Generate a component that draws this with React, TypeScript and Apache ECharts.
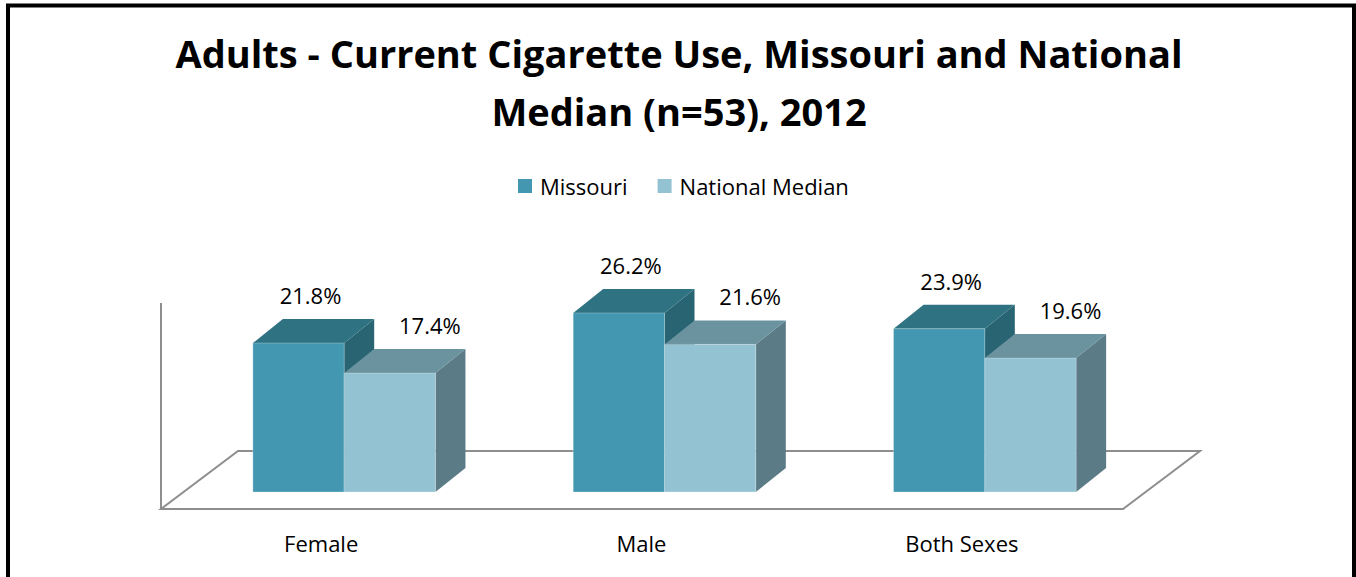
import React, { useEffect, useRef } from "react";
import * as echarts from "echarts";

const categories = ["Female", "Male", "Both Sexes"];
const missouri = [21.8, 26.2, 23.9];
const nationalMedian = [17.4, 21.6, 19.6];
const seriesNames = ["Missouri", "National Median"];
const titleText = "Adults - Current Cigarette Use, Missouri and National\nMedian (n=53), 2012";

const FONT = "'Open Sans', 'Noto Sans', 'Liberation Sans', sans-serif";

const palettes = [
  { front: "#4397B0", top: "#2F7383", side: "#286472" },
  { front: "#93C3D3", top: "#6A939F", side: "#5B7C86" },
];
const labelShift = [12, 40];
const DX = 30;
const DY = -24;

function makeBarRenderer(seriesIdx: number) {
  return (params: any, api: any) => {
    const cat = api.value(0);
    const val = api.value(1);
    const top = api.coord([cat, val]);
    const base = api.coord([cat, 0]);
    const band = api.size([1, 0])[0];
    const w = band * 0.285;
    const x0 = seriesIdx === 0 ? top[0] - w : top[0];
    const x1 = x0 + w;
    const yT = top[1];
    const yB = base[1];
    const p = palettes[seriesIdx];
    return {
      type: "group",
      children: [
        {
          type: "polygon",
          shape: { points: [[x1, yT], [x1 + DX, yT + DY], [x1 + DX, yB + DY], [x1, yB]] },
          style: { fill: p.side },
        },
        {
          type: "polygon",
          shape: { points: [[x0, yT], [x0 + DX, yT + DY], [x1 + DX, yT + DY], [x1, yT]] },
          style: { fill: p.top },
        },
        {
          type: "rect",
          shape: { x: x0, y: yT, width: w, height: yB - yT },
          style: { fill: p.front, stroke: "rgba(255,255,255,0.25)", lineWidth: 1 },
        },
        {
          type: "text",
          x: (x0 + x1) / 2 + labelShift[seriesIdx],
          y: yT - 48,
          style: {
            text: val.toFixed(1) + "%",
            fontFamily: FONT,
            fontSize: 22,
            fill: "#000",
            align: "center",
            verticalAlign: "middle",
          },
        },
      ],
    };
  };
}

function floorRenderer(params: any, api: any) {
  const cs = params.coordSys;
  const gx = cs.x;
  const gw = cs.width;
  const base = cs.y + cs.height;
  const stroke = "#8E8E8E";
  return {
    type: "group",
    children: [
      {
        type: "polygon",
        shape: {
          points: [
            [gx - 23, base + 17],
            [gx + gw - 22, base + 17],
            [gx + gw + 55, base - 41],
            [gx + 54, base - 41],
          ],
        },
        style: { fill: "none", stroke, lineWidth: 2 },
      },
      {
        type: "line",
        shape: { x1: gx - 23, y1: base + 17, x2: gx - 23, y2: base - 189 },
        style: { stroke, lineWidth: 2 },
      },
    ],
  };
}

export default function App() {
  const ref = useRef<HTMLDivElement>(null);
  useEffect(() => {
    if (!ref.current) return;
    const chart = echarts.init(ref.current, null, { renderer: "svg" });
    chart.setOption({
      animation: false,
      backgroundColor: "#fff",
      title: {
        text: titleText,
        left: 674,
        top: 19,
        textAlign: "center",
        textStyle: {
          fontFamily: FONT,
          fontWeight: "bold",
          fontSize: 38,
          lineHeight: 58,
          color: "#000",
        },
      },
      legend: {
        data: seriesNames,
        left: 513,
        top: 170,
        icon: "rect",
        itemWidth: 14,
        itemHeight: 14,
        itemGap: 30,
        itemStyle: { borderWidth: 0 },
        textStyle: { fontFamily: FONT, fontSize: 22, color: "#000", padding: [0, 0, 0, 3] },
      },
      grid: { left: 184, right: 211, top: 287, bottom: 85 },
      xAxis: {
        type: "category",
        data: categories,
        axisLine: { show: false },
        axisTick: { show: false },
        axisLabel: {
          margin: 40,
          fontFamily: FONT,
          fontSize: 22,
          color: "#000",
          padding: [0, 46, 0, 0],
        },
      },
      yAxis: {
        type: "value",
        min: 0,
        max: 30,
        show: false,
        splitLine: { show: false },
      },
      graphic: [
        {
          type: "rect",
          shape: { x: 8, y: 5.5, width: 1346, height: 700 },
          style: { fill: "none", stroke: "#000", lineWidth: 4 },
          z: 100,
        },
      ],
      series: [
        {
          type: "custom",
          name: "floor",
          renderItem: floorRenderer,
          data: [[0, 0]],
          z: 1,
          silent: true,
        },
        {
          type: "custom",
          name: seriesNames[0],
          renderItem: makeBarRenderer(0),
          itemStyle: { color: palettes[0].front },
          data: missouri.map((v, i) => [i, v]),
          z: 2,
        },
        {
          type: "custom",
          name: seriesNames[1],
          renderItem: makeBarRenderer(1),
          itemStyle: { color: palettes[1].front },
          data: nationalMedian.map((v, i) => [i, v]),
          z: 3,
        },
      ],
    });
    return () => chart.dispose();
  }, []);
  return (
    <div
      ref={ref}
      style={{ position: "fixed", left: 0, top: 0, width: 1356, height: 577 }}
    />
  );
}
